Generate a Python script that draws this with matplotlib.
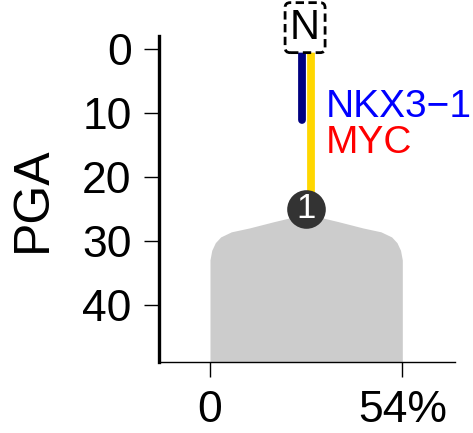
import numpy as np
import matplotlib
matplotlib.use("Agg")
import matplotlib.pyplot as plt

plt.rcParams['font.family'] = ['Liberation Sans', 'DejaVu Sans']

# 数据
shape_x = [0, 0.5, 1.5, 3, 6, 11, 18, 27, 36, 43, 48, 51, 52.5, 53.5, 54]
shape_top = [33, 31.5, 30.3, 29.4, 28.6, 28.0, 27.0, 25.8, 27.0, 28.0, 28.6, 29.4, 30.3, 31.5, 33]
shape_bottom = 49

clone_x = 27
clone_pga = 25
clone_label = "1"

gene_names = ["NKX3\u22121", "MYC"]
gene_colors = ["#0000FF", "#FF0000"]
line_colors = ["#000080", "#FFD700"]
line_start = [0, 0]
line_end = [11, 25]
line_x = [25.75, 28.25]

pga_ticks = [0, 10, 20, 30, 40]
x_ticks = [0, 54]
x_ticklabels = ["0", "54%"]

fig = plt.figure(figsize=(4.73, 4.33), dpi=100)
ax = fig.add_axes([0.337, 0.164, 0.625, 0.753])

# 灰色形状
ax.fill_between(shape_x, shape_top, shape_bottom, color="#CCCCCC", linewidth=0, zorder=1)

# 竖线
ax.plot([line_x[1], line_x[1]], [line_start[1], line_end[1]], color=line_colors[1],
        lw=5.6, solid_capstyle="butt", zorder=2)
ax.plot([line_x[0], line_x[0]], [line_start[0], line_end[0]], color=line_colors[0],
        lw=5.6, solid_capstyle="round", zorder=3)

# 圆圈
ax.plot([clone_x], [clone_pga], "o", ms=27.8, color="#333333", mec="none", zorder=4)
ax.text(clone_x, clone_pga, clone_label, color="white", fontsize=25,
        ha="center", va="center", zorder=5)

# N 框
ax.text(clone_x - 0.3, -3.4, "N", fontsize=30, ha="center", va="center", clip_on=False,
        bbox=dict(boxstyle="round,pad=0.12,rounding_size=0.12", fc="white", ec="black",
                  ls=(0, (3, 1.6)), lw=2.0), zorder=6)

# 基因名
ax.text(32.6, 10.55, gene_names[0], color=gene_colors[0], fontsize=28, ha="left", va="baseline")
ax.text(32.6, 16.3, gene_names[1], color=gene_colors[1], fontsize=28, ha="left", va="baseline")

ax.set_xlim(-14.2, 68.8)
ax.set_ylim(49, -2.1)
ax.set_yticks(pga_ticks)
ax.set_xticks(x_ticks)
ax.set_xticklabels(x_ticklabels)
ax.set_ylabel("PGA", fontsize=36)
ax.yaxis.set_label_coords(-0.35, 0.5)

ax.spines["top"].set_visible(False)
ax.spines["right"].set_visible(False)
ax.spines["left"].set_linewidth(2.4)
ax.spines["bottom"].set_linewidth(1.0)
ax.tick_params(axis="both", labelsize=32, length=11, width=1.0, pad=9)

plt.savefig("out.png", dpi=100)
